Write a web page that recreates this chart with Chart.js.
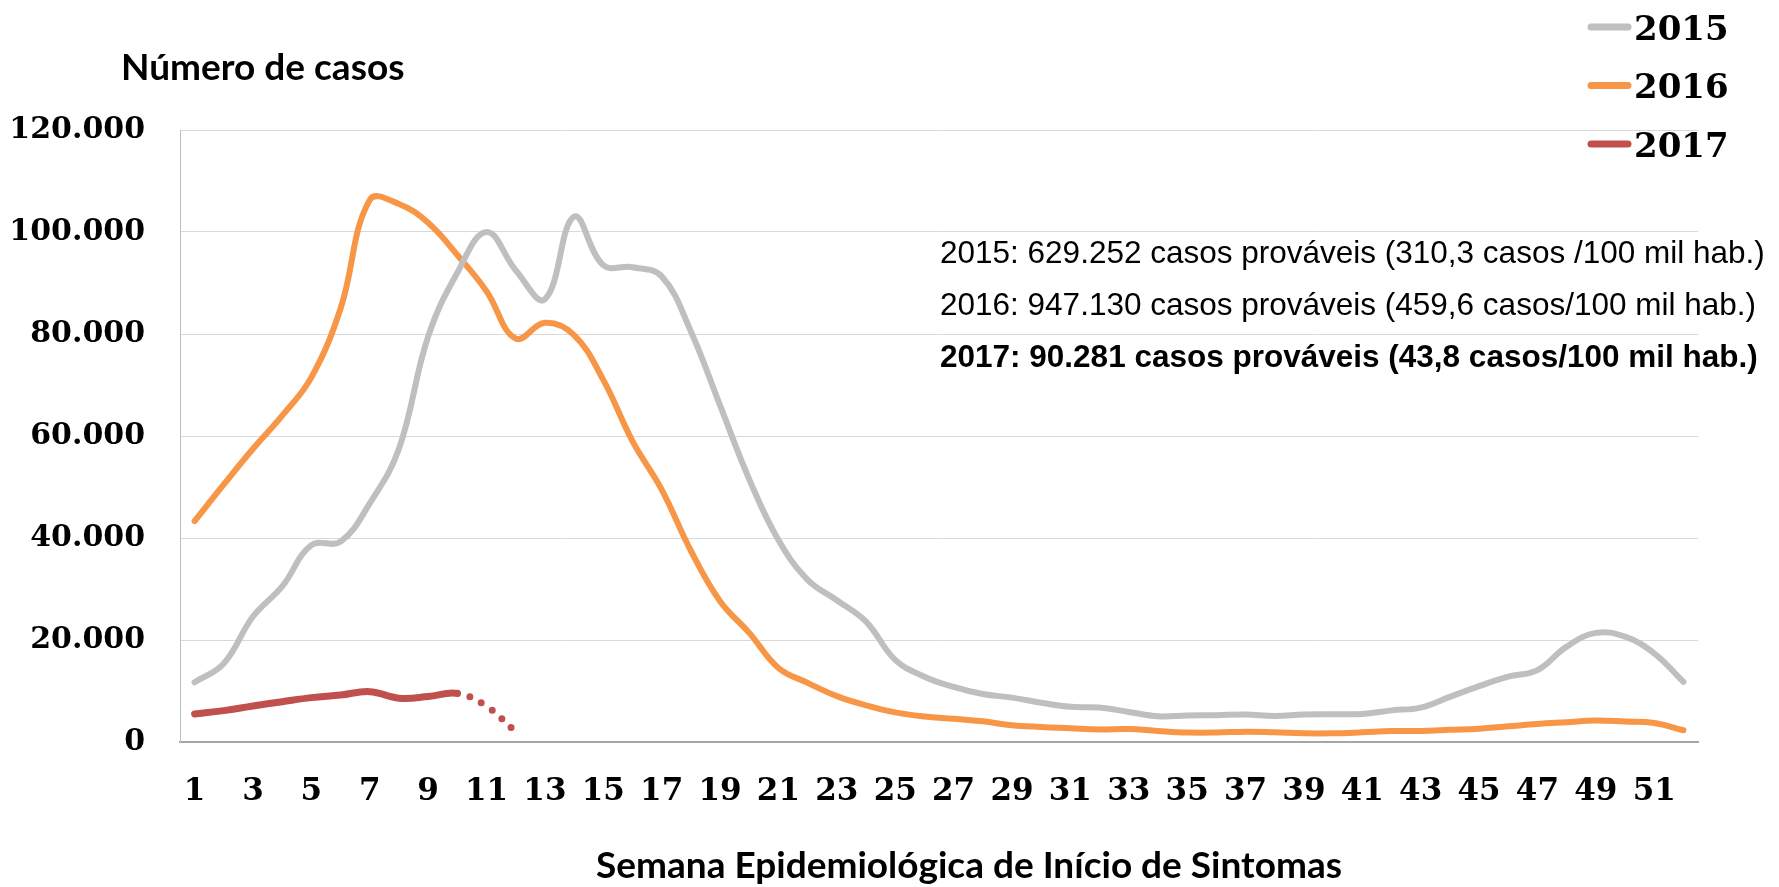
<!DOCTYPE html>
<html lang="pt-BR">
<head>
<meta charset="UTF-8" />
<title>Casos prováveis de dengue por semana epidemiológica</title>
<script src="https://cdn.jsdelivr.net/npm/chart.js"></script>
<style>
  html, body { margin: 0; padding: 0; background: #fff; }
  #wrap { position: relative; width: 1779px; height: 887px; }
</style>
</head>
<body>
<div id="wrap"><canvas id="casosChart"></canvas></div>
<script>
// semanas epidemiologicas
const semanas = ['1','2','3','4','5','6','7','8','9','10','11','12','13','14','15','16','17','18','19','20',
  '21','22','23','24','25','26','27','28','29','30','31','32','33','34','35','36','37','38','39','40',
  '41','42','43','44','45','46','47','48','49','50','51','52'];
const rotulosX = ['1','3','5','7','9','11','13','15','17','19','21','23','25','27','29','31','33','35',
  '37','39','41','43','45','47','49','51'];
const ticksY = [0, 20000, 40000, 60000, 80000, 100000, 120000];

const casos2015 = [11700, 15400, 24600, 30500, 38600, 39300, 46800, 57500, 79500, 92000,
  100000, 92500, 86800, 103000, 93500, 93100, 91300, 80500, 66000, 51500,
  39600, 31800, 27800, 23600, 16100, 12800, 10800, 9400, 8700, 7700,
  6900, 6750, 5900, 5050, 5200, 5250, 5400, 5100, 5400, 5450,
  5500, 6200, 6750, 8850, 10950, 12800, 14100, 18700, 21400, 20650,
  17400, 11800];
const casos2016 = [43300, 50500, 57500, 64000, 71500, 85000, 106300, 105500, 101800, 95500,
  88400, 79100, 82200, 79800, 71000, 59000, 49500, 37500, 27600, 21400,
  14500, 11600, 9000, 7200, 5800, 5000, 4550, 4050, 3300, 2950,
  2700, 2450, 2560, 2160, 1850, 1850, 2030, 1900, 1700, 1700,
  1900, 2160, 2160, 2380, 2620, 3080, 3540, 3870, 4200, 4000,
  3740, 2300];
const casos2017 = [5500, 6150, 7060, 7900, 8700, 9200, 9870, 8600, 8900, 9540, 7000, 2000];

const anos = ['2015', '2016', '2017'];
const cores = ['#BFBFBF', '#F79646', '#C0504D'];
const resumo = [
  '2015: 629.252 casos prováveis (310,3 casos /100 mil hab.)',
  '2016: 947.130 casos prováveis (459,6 casos/100 mil hab.)',
  '2017: 90.281 casos prováveis (43,8 casos/100 mil hab.)'
];

function milhar(v) {
  return String(v).replace(/\B(?=(\d{3})+(?!\d))/g, '.');
}

// textos soltos e legenda desenhados por cima
const textos = {
  id: 'textos',
  afterDraw(chart) {
    const ctx = chart.ctx;
    ctx.save();
    ctx.fillStyle = '#000';
    ctx.textBaseline = 'alphabetic';

    ctx.font = 'bold 37px Lato';
    ctx.textAlign = 'left';
    ctx.fillText('Número de casos', 121, 80);

    ctx.textAlign = 'center';
    ctx.fillText('Semana Epidemiológica de Início de Sintomas', 969, 878);

    ctx.textAlign = 'left';
    resumo.forEach((t, i) => {
      ctx.font = (i === 2 ? 'bold ' : '') + '31.5px "Liberation Sans"';
      ctx.fillText(t, 940, 263 + i * 52);
    });

    chart.data.datasets.forEach((ds, i) => {
      const y = 27 + i * 58.5;
      ctx.strokeStyle = ds.borderColor;
      ctx.lineWidth = 7;
      ctx.lineCap = 'round';
      ctx.beginPath();
      ctx.moveTo(1591, y);
      ctx.lineTo(1628, y);
      ctx.stroke();
      ctx.font = 'bold 34px "DejaVu Serif"';
      ctx.fillText(ds.label, 1634, y + 12.5);
    });
    ctx.restore();
  }
};

const ctx = document.getElementById('casosChart').getContext('2d');
new Chart(ctx, {
  type: 'line',
  data: {
    labels: semanas,
    datasets: [
      { label: anos[0], data: casos2015, borderColor: cores[0] },
      { label: anos[1], data: casos2016, borderColor: cores[1] },
      {
        label: anos[2], data: casos2017, borderColor: cores[2], borderWidth: 7,
        segment: { borderDash: c => c.p0DataIndex >= 9 ? [0, 13] : undefined }
      }
    ]
  },
  options: {
    responsive: true,
    maintainAspectRatio: false,
    animation: false,
    layout: { padding: { top: 130, right: 81, left: 0, bottom: 0 } },
    elements: {
      line: { borderWidth: 6, tension: 0.4, borderCapStyle: 'round', borderJoinStyle: 'round', fill: false },
      point: { radius: 0, hoverRadius: 0 }
    },
    plugins: { legend: { display: false }, tooltip: { enabled: false } },
    scales: {
      x: {
        offset: true,
        grid: { display: false, drawTicks: false },
        border: { display: true, color: '#A6A6A6', width: 2 },
        afterFit: s => { s.height = 145; },
        ticks: {
          autoSkip: false,
          maxRotation: 0,
          padding: 31,
          color: '#000',
          font: { family: 'DejaVu Serif', weight: 'bold', size: 31 },
          callback: (v, i) => rotulosX.includes(semanas[i]) ? semanas[i] : ''
        }
      },
      y: {
        min: 0,
        max: 120000,
        afterBuildTicks: s => { s.ticks = ticksY.map(v => ({ value: v })); },
        afterFit: s => { s.width = 180; },
        grid: { color: '#D9D9D9', lineWidth: 1, drawTicks: false },
        border: { display: true, color: '#BFBFBF', width: 1 },
        ticks: {
          padding: 35,
          color: '#000',
          font: { family: 'DejaVu Serif', weight: 'bold', size: 30 },
          callback: v => milhar(v)
        }
      }
    }
  },
  plugins: [textos]
});
</script>
</body>
</html>
